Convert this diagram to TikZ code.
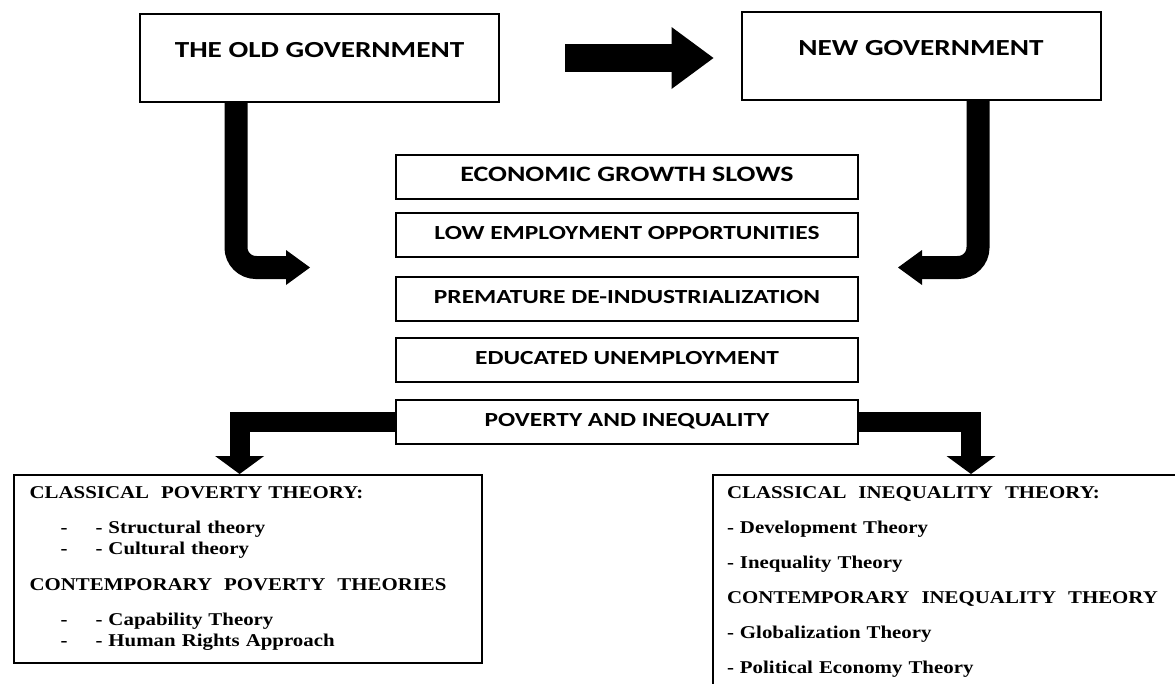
\documentclass[tikz,border=0pt]{standalone}
\usepackage{fontspec}
\newfontfamily\boxfont{Carlito}[FakeStretch=1.27]
\newfontfamily\theoryfont{Liberation Serif}[FakeStretch=1.16]
\usetikzlibrary{arrows.meta,positioning}
\tikzstyle{govbox} = [draw=black, line width=2pt, minimum width=359pt, inner sep=0pt, text height=43.5pt, text depth=44.5pt, font=\boxfont\bfseries\fontsize{23}{27}\selectfont]
\tikzstyle{stepbox} = [draw=black, line width=2pt, minimum width=462pt, minimum height=44pt, inner sep=0pt, text height=13pt, text depth=5pt, font=\boxfont\bfseries\fontsize{20}{24}\selectfont]
\tikzstyle{theorybox} = [draw=black, line width=2pt, anchor=north west, align=left, inner xsep=16pt, inner ysep=12pt, font=\theoryfont\bfseries\fontsize{18}{21}\selectfont]
\tikzstyle{bigarrow} = [line width=28pt, -{Triangle[length=42pt,width=62pt,line width=0pt]}]
\tikzstyle{bentarrow} = [line width=23pt, rounded corners=20pt, -{Triangle[length=24pt,width=35pt,line width=0pt]}]
\tikzstyle{splitarrow} = [line width=20pt, line join=miter, -{Triangle[length=18pt,width=49pt,line width=0pt]}]

\begin{document}
\begin{tikzpicture}[x=1pt, y=-1pt]
			\useasboundingbox (0,0) rectangle (1175,683);

			%--Governments--%
			\node(old)[govbox] at (319.5,58) {THE OLD GOVERNMENT};
			\node(new)[govbox] at (921,55.5) {NEW GOVERNMENT};

			%--Chain of effects--%
			\node(growth)[stepbox, font=\boxfont\bfseries\fontsize{22}{26}\selectfont] at (627,177) {ECONOMIC GROWTH SLOWS};
			\node(employ)[stepbox, below=12pt of growth] {LOW EMPLOYMENT OPPORTUNITIES};
			\node(deind)[stepbox, below=18pt of employ] {PREMATURE DE-INDUSTRIALIZATION};
			\node(educ)[stepbox, below=15pt of deind] {EDUCATED UNEMPLOYMENT};
			\node(poverty)[stepbox, below=16pt of educ] {POVERTY AND INEQUALITY};

			%--Theories--%
			\node(povtheory)[theorybox, text width=436pt] at (12.6,474) {%
				CLASSICAL\ \ POVERTY THEORY:\\[14pt]
				\hspace*{31pt}-\hspace{28pt}- Structural theory\\
				\hspace*{31pt}-\hspace{28pt}- Cultural theory\\[15pt]
				CONTEMPORARY\ \ POVERTY\ \ THEORIES\\[14pt]
				\hspace*{31pt}-\hspace{28pt}- Capability Theory\\
				\hspace*{31pt}-\hspace{28pt}- Human Rights Approach};
			\node(ineqtheory)[theorybox, inner xsep=14pt, text width=480pt] at (712,474) {%
				CLASSICAL\ \ INEQUALITY\ \ THEORY:\\[14pt]
				- Development Theory\\[14pt]
				- Inequality Theory\\[14pt]
				CONTEMPORARY\ \ INEQUALITY\ \ THEORY\\[14pt]
				- Globalization Theory\\[14pt]
				- Political Economy Theory};

			%--Free arrow ends--%
			\coordinate(oldtip) at (310,267.5);
			\coordinate(newtip) at (898,267.5);

			%--Arrows--%
			\draw[bigarrow, shorten <=65pt, shorten >=27pt] (old.east) -- (new.west |- old.east);
			\draw[bentarrow] ([xshift=-83.5pt]old.south) |- (oldtip);
			\draw[bentarrow] ([xshift=57pt]new.south) |- (newtip);
			\draw[splitarrow] (poverty.west) -| ([xshift=227pt]povtheory.north west);
			\draw[splitarrow] (poverty.east) -| ([xshift=259pt]ineqtheory.north west);
		\end{tikzpicture}
\end{document}
